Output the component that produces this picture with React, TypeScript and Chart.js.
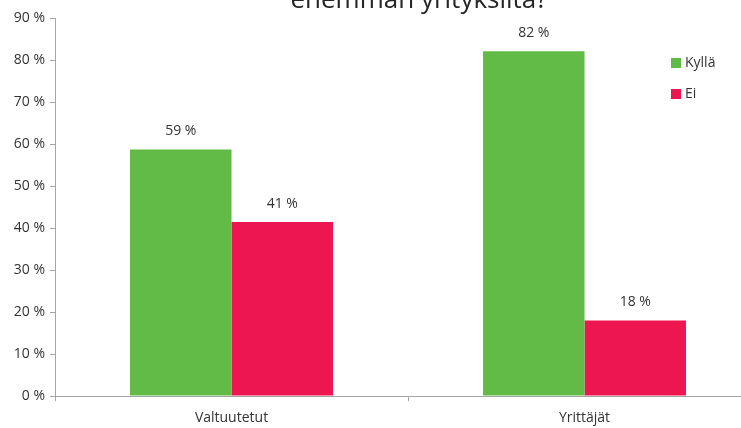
import React, { useEffect, useRef } from "react";
import { Chart, registerables } from "chart.js";
Chart.register(...registerables);

const categories = ["Valtuutetut", "Yrittäjät"];
const seriesNames = ["Kyllä", "Ei"];
const kyllaValues = [58.7, 82.1];
const eiValues = [41.4, 18.0];
const seriesColors = ["#62BB46", "#ED1651"];
const titleLine = "enemmän yrityksiltä?";
const yMin = 0;
const yMax = 90;
const yStep = 10;

const FONT = "'Open Sans', sans-serif";
const TEXT = "#333333";
const AXIS = "#A6A6A6";

const overlayPlugin = {
  id: "overlay",
  afterDraw(chart: any) {
    const ctx = chart.ctx;
    const area = chart.chartArea;
    ctx.save();
    // title (top line clipped by the frame)
    ctx.fillStyle = "#262626";
    ctx.font = `26px ${FONT}`;
    ctx.textAlign = "center";
    ctx.textBaseline = "alphabetic";
    ctx.fillText(titleLine, (area.left + area.right) / 2 + 11, 8);

    // value labels
    ctx.font = `14px ${FONT}`;
    ctx.fillStyle = TEXT;
    ctx.textBaseline = "middle";
    chart.data.datasets.forEach((ds: any, i: number) => {
      const meta = chart.getDatasetMeta(i);
      meta.data.forEach((el: any, j: number) => {
        ctx.fillText(Math.round(ds.data[j]) + " %", el.x, el.y - 18);
      });
    });

    // legend
    const lx = 671;
    let ly = 63;
    ctx.textAlign = "left";
    chart.data.datasets.forEach((ds: any) => {
      ctx.fillStyle = ds.backgroundColor;
      ctx.fillRect(lx, ly - 5, 10, 10);
      ctx.fillStyle = TEXT;
      ctx.fillText(ds.label, lx + 14, ly);
      ly += 31;
    });
    ctx.restore();
  },
};

export default function App() {
  const ref = useRef<HTMLCanvasElement>(null);
  useEffect(() => {
    if (!ref.current) return;
    const chart = new Chart(ref.current, {
      type: "bar",
      data: {
        labels: categories,
        datasets: [
          { label: seriesNames[0], data: kyllaValues, backgroundColor: seriesColors[0] },
          { label: seriesNames[1], data: eiValues, backgroundColor: seriesColors[1] },
        ],
      },
      options: {
        responsive: false,
        animation: false,
        devicePixelRatio: 1,
        layout: { padding: { top: 18, right: 19, bottom: 0, left: 0 } },
        datasets: { bar: { barPercentage: 1, categoryPercentage: 0.575 } },
        plugins: {
          legend: { display: false },
          title: { display: false },
          tooltip: { enabled: false },
        },
        scales: {
          x: {
            afterFit(scale: any) {
              scale.height = 32;
            },
            grid: {
              display: true,
              drawOnChartArea: false,
              drawTicks: true,
              tickLength: 5,
              color: AXIS,
              offset: true,
            },
            border: { display: true, color: AXIS },
            ticks: { color: TEXT, font: { family: FONT, size: 14 }, padding: 9 },
          },
          y: {
            min: yMin,
            max: yMax,
            afterFit(scale: any) {
              scale.width = 55;
            },
            grid: {
              display: true,
              drawOnChartArea: false,
              drawTicks: true,
              tickLength: 5,
              color: AXIS,
            },
            border: { display: true, color: AXIS },
            ticks: {
              stepSize: yStep,
              color: TEXT,
              font: { family: FONT, size: 14 },
              padding: 5,
              callback: (v: any) => v + " %",
            },
          },
        },
      },
      plugins: [overlayPlugin],
    });
    return () => chart.destroy();
  }, []);
  return (
    <div
      style={{
        position: "fixed",
        left: 0,
        top: 0,
        width: 741,
        height: 428,
        overflow: "hidden",
        background: "#fff",
      }}
    >
      <canvas ref={ref} width={780} height={428} style={{ display: "block" }} />
    </div>
  );
}
